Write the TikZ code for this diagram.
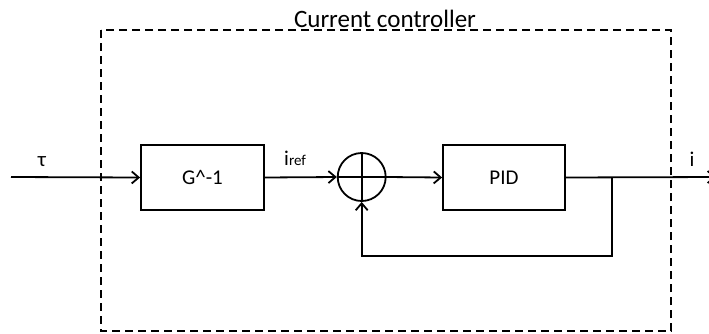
\documentclass[tikz,border=0pt]{standalone}
\usepackage{fontspec}
\setmainfont{Carlito}
\usetikzlibrary{arrows.meta}
\begin{document}
\begin{tikzpicture}[x=1pt,y=-1pt,
  ln/.style={line width=1.8pt},
  blk/.style={ln, draw, minimum height=65pt, inner sep=0pt, font=\fontsize{21}{25}\selectfont},
  arr/.style={ln, -{Straight Barb[length=7pt,width=12pt,line width=1.8pt]}},
  lbl/.style={inner sep=0pt, font=\fontsize{21}{25}\selectfont}
]
\useasboundingbox (0,0) rectangle (709,333);
\draw[line width=1.6pt, dash pattern=on 8pt off 5pt] (101,30) rectangle (671,331);
\node[lbl, anchor=base, font=\fontsize{25}{30}\selectfont] (title) at (385,27) {Current controller};
\node[blk, minimum width=123pt] (G) at (202.5,177.5) {G\textasciicircum-1};
\node[blk, minimum width=122pt] (P) at (504,177.5) {PID};
\node[ln, draw, circle, minimum size=48pt, inner sep=0pt] (S) at (361.7,177) {};
\draw[ln] (S.north) -- (S.south) (S.west) -- (S.east);
\coordinate (in) at (11,177);
\coordinate (out) at (716,177);
\coordinate (br) at (612,177);
\coordinate (fb) at (612,256);
\draw[arr] (in) -- (G.west);
\draw[arr] (G.east) -- (S.west);
\draw[arr] (S.east) -- (P.west);
\draw[arr] (P.east) -- (out);
\draw[arr] (br) -- (fb) -| (S.south);
\node[lbl, anchor=base] (tau) at (42,166) {τ};
\node[lbl, anchor=base west] (iref) at (284,165) {i{\fontsize{15}{18}\selectfont ref}};
\node[lbl, anchor=base] (iout) at (692,166) {i};
\end{tikzpicture}
\end{document}
